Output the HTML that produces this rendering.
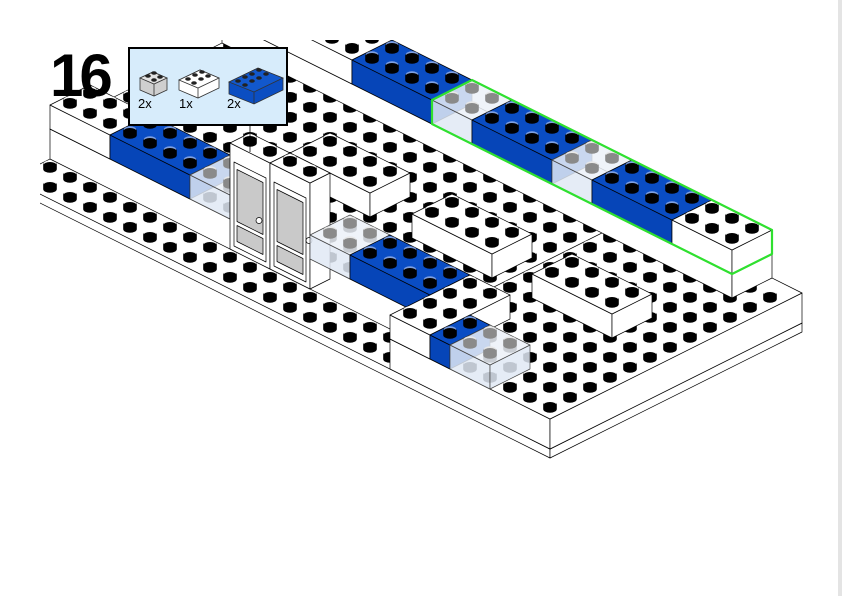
<!DOCTYPE html>
<html><head><meta charset="utf-8">
<style>
html,body{margin:0;padding:0;background:#fff;}
body{width:842px;height:596px;overflow:hidden;position:relative;font-family:"Liberation Sans",sans-serif;}
#edge{position:absolute;left:838px;top:0;width:4px;height:596px;background:#e4e4e4;}
</style></head><body>
<svg id="s" width="842" height="596" viewBox="0 0 842 596" xmlns="http://www.w3.org/2000/svg" style="position:absolute;left:0;top:0">
<defs><clipPath id="c"><rect x="40" y="40" width="790" height="556"/></clipPath></defs>
<g id="scene" clip-path="url(#c)"></g>
<g id="over">
<line x1="250" y1="126" x2="250" y2="152" stroke="#000" stroke-width="0.8"/>
<rect x="129" y="48" width="158" height="77" fill="#d7ecfb" stroke="#000" stroke-width="2"/>
<g stroke="#333" stroke-width="0.8">
<polygon points="140,78 153,72 167,78 167,90 154,96 140,90" fill="#cfcfcf"/>
<polygon points="140,78 154,84 167,78 153,72" fill="#e2e2e2"/>
<line x1="154" y1="84" x2="154" y2="96"/>
<polygon points="179,80 200,70 219,78 219,88 198,98 179,90" fill="#fff"/>
<polygon points="179,80 198,88 219,78 200,70" fill="#fff"/>
<line x1="198" y1="88" x2="198" y2="98"/>
<polygon points="229,82 258,68 283,78 283,90 254,104 229,94" fill="#0b4ec2"/>
<polygon points="229,82 254,92 283,78 258,68" fill="#1258cc"/>
<line x1="254" y1="92" x2="254" y2="104"/>
</g>
<g fill="#222">
<ellipse cx="148" cy="76" rx="2.8" ry="1.8"/><ellipse cx="154" cy="73" rx="2.8" ry="1.8"/><ellipse cx="154" cy="80" rx="2.8" ry="1.8"/><ellipse cx="160" cy="77" rx="2.8" ry="1.8"/>
<ellipse cx="188" cy="79" rx="2.8" ry="1.8"/><ellipse cx="195" cy="75" rx="2.8" ry="1.8"/><ellipse cx="202" cy="72" rx="2.8" ry="1.8"/><ellipse cx="194" cy="83" rx="2.8" ry="1.8"/><ellipse cx="201" cy="79" rx="2.8" ry="1.8"/><ellipse cx="208" cy="76" rx="2.8" ry="1.8"/>
<ellipse cx="238" cy="81" rx="2.8" ry="1.8"/><ellipse cx="245" cy="77" rx="2.8" ry="1.8"/><ellipse cx="252" cy="74" rx="2.8" ry="1.8"/><ellipse cx="259" cy="70" rx="2.8" ry="1.8"/>
<ellipse cx="245" cy="85" rx="2.8" ry="1.8"/><ellipse cx="252" cy="81" rx="2.8" ry="1.8"/><ellipse cx="259" cy="78" rx="2.8" ry="1.8"/><ellipse cx="266" cy="74" rx="2.8" ry="1.8"/>
</g>
<text x="138" y="108" font-size="13" font-family="Liberation Sans, sans-serif">2x</text>
<text x="179" y="108" font-size="13" font-family="Liberation Sans, sans-serif">1x</text>
<text x="227" y="108" font-size="13" font-family="Liberation Sans, sans-serif">2x</text>
<text x="50" y="96" font-size="60" font-weight="bold" font-family="Liberation Sans, sans-serif" letter-spacing="-4">16</text>
</g>
</svg>
<div id="edge"></div>
<script>
(function(){
var X0=550,Y0=458,out=[];
function W(u,v,h){return [X0-20*u+20*v, Y0-10*u-10*v-h];}
function P(a){return a.map(function(p){return p[0].toFixed(1)+','+p[1].toFixed(1);}).join(' ');}
function poly(pts,fill,stroke,sw){out.push('<polygon points="'+P(pts)+'" fill="'+fill+'" stroke="'+(stroke||'#000')+'" stroke-width="'+(sw||0.7)+'" stroke-linejoin="round"/>');}
var WH={top:'#fff',l:'#fff',r:'#fff',st:'#000',hi:'#fff',line:'#000'};
var BL={top:'#0a4dc4',l:'#0645b8',r:'#0645b8',st:'#000',hi:'#7fa0e0',line:'#000'};
var CL={top:'rgba(236,241,248,0.85)',l:'rgba(225,233,245,0.85)',r:'rgba(225,233,245,0.85)',st:'#8a8a8a',hi:'#e8e8e8',line:'#444'};
function stud(c,x,y){
 var s=c.st;
 out.push('<path d="M'+(x-6.8)+' '+y+' L'+(x-6.8)+' '+(y-4.5)+' A6.8 3.8 0 0 1 '+(x+6.8)+' '+(y-4.5)+' L'+(x+6.8)+' '+y+' A6.8 3.8 0 0 1 '+(x-6.8)+' '+y+' Z" fill="'+s+'"/>');
 out.push('<ellipse cx="'+x+'" cy="'+(y-5.4)+'" rx="6.2" ry="3.3" fill="'+c.hi+'"/>');
 out.push('<ellipse cx="'+x+'" cy="'+(y-3.8)+'" rx="6.4" ry="3.2" fill="'+s+'"/>');
}
function box(u,v,h,lu,lv,H,c,ns){
 poly([W(u,v,h),W(u+lu,v,h),W(u+lu,v,h+H),W(u,v,h+H)],c.l,c.line);
 poly([W(u,v,h),W(u,v+lv,h),W(u,v+lv,h+H),W(u,v,h+H)],c.r,c.line);
 poly([W(u,v,h+H),W(u+lu,v,h+H),W(u+lu,v+lv,h+H),W(u,v+lv,h+H)],c.top,c.line);
 if(ns)return;
 var nu=Math.floor(lu+0.01),nv=Math.floor(lv+0.01),list=[];
 for(var i=0;i<nu;i++)for(var j=0;j<nv;j++)list.push([i,j]);
 list.sort(function(a,b){return (b[0]+b[1])-(a[0]+a[1]);});
 list.forEach(function(q){var p=W(u+q[0]+0.5,v+q[1]+0.5,h+H);stud(c,p[0],p[1]);});
}
box(0,0,0,27,12.6,9,WH);
box(8,2,9,19,10.6,30,WH);
box(0,0,9,8,12.6,30,WH);
box(1.5,10.6,39,25.5,2,24,WH,true);
box(20.5,10.6,63,6.5,2,24,WH);
box(16.5,10.6,63,4,2,24,BL);
box(14.5,10.6,63,2,2,24,CL);
box(10.5,10.6,63,4,2,24,BL);
box(8.5,10.6,63,2,2,24,CL);
box(4.5,10.6,63,4,2,24,BL);
box(1.5,10.6,63,3,2,24,WH);
out.push('<polygon points="'+P([W(1.5,10.6,63),W(16.5,10.6,63),W(16.5,10.6,87),W(16.5,12.6,87),W(1.5,12.6,87),W(1.5,12.6,63)])+'" fill="none" stroke="#2fe02f" stroke-width="2.2" stroke-linejoin="round"/>');
box(14.6,5.6,39,4,2,24,WH);
box(8.5,5.6,39,4,2,24,WH);
box(2.5,5.6,39,4,2,24,WH);
box(24,2,39,3,2,24,WH);
box(20,2,39,4,2,24,BL);
box(18,2,39,2,2,24,CL);
function door(u0){
 box(u0,2,9,2,1,106,WH,true);
 var f=function(s,t){return W(u0+s,2,t);};
 poly([f(0.2,14),f(1.8,14),f(1.8,98),f(0.2,98)],'#fff','#000',0.7);
 poly([f(0.35,40),f(1.65,40),f(1.65,92),f(0.35,92)],'#c9c9c9','#000',0.7);
 poly([f(0.35,20),f(1.65,20),f(1.65,36),f(0.35,36)],'#c9c9c9','#000',0.7);
 var k=f(0.35,56);out.push('<circle cx="'+(k[0]+(u0==14?6:-4))+'" cy="'+(k[1]+2)+'" r="3" fill="#fff" stroke="#000" stroke-width="0.7"/>');
 for(var i=1;i>=0;i--){var p=W(u0+i+0.5,2.5,115);stud(WH,p[0],p[1]);}
}
door(16);door(14);
box(12,2,39,2,2,24,CL);
box(8,2,39,4,2,24,BL);
box(6,0,39,2,4,24,WH);
box(5,0,39,1,2,24,BL);
box(3,0,39,2,2,24,CL);
document.getElementById('scene').innerHTML=out.join('');
})();
</script>
</body></html>
